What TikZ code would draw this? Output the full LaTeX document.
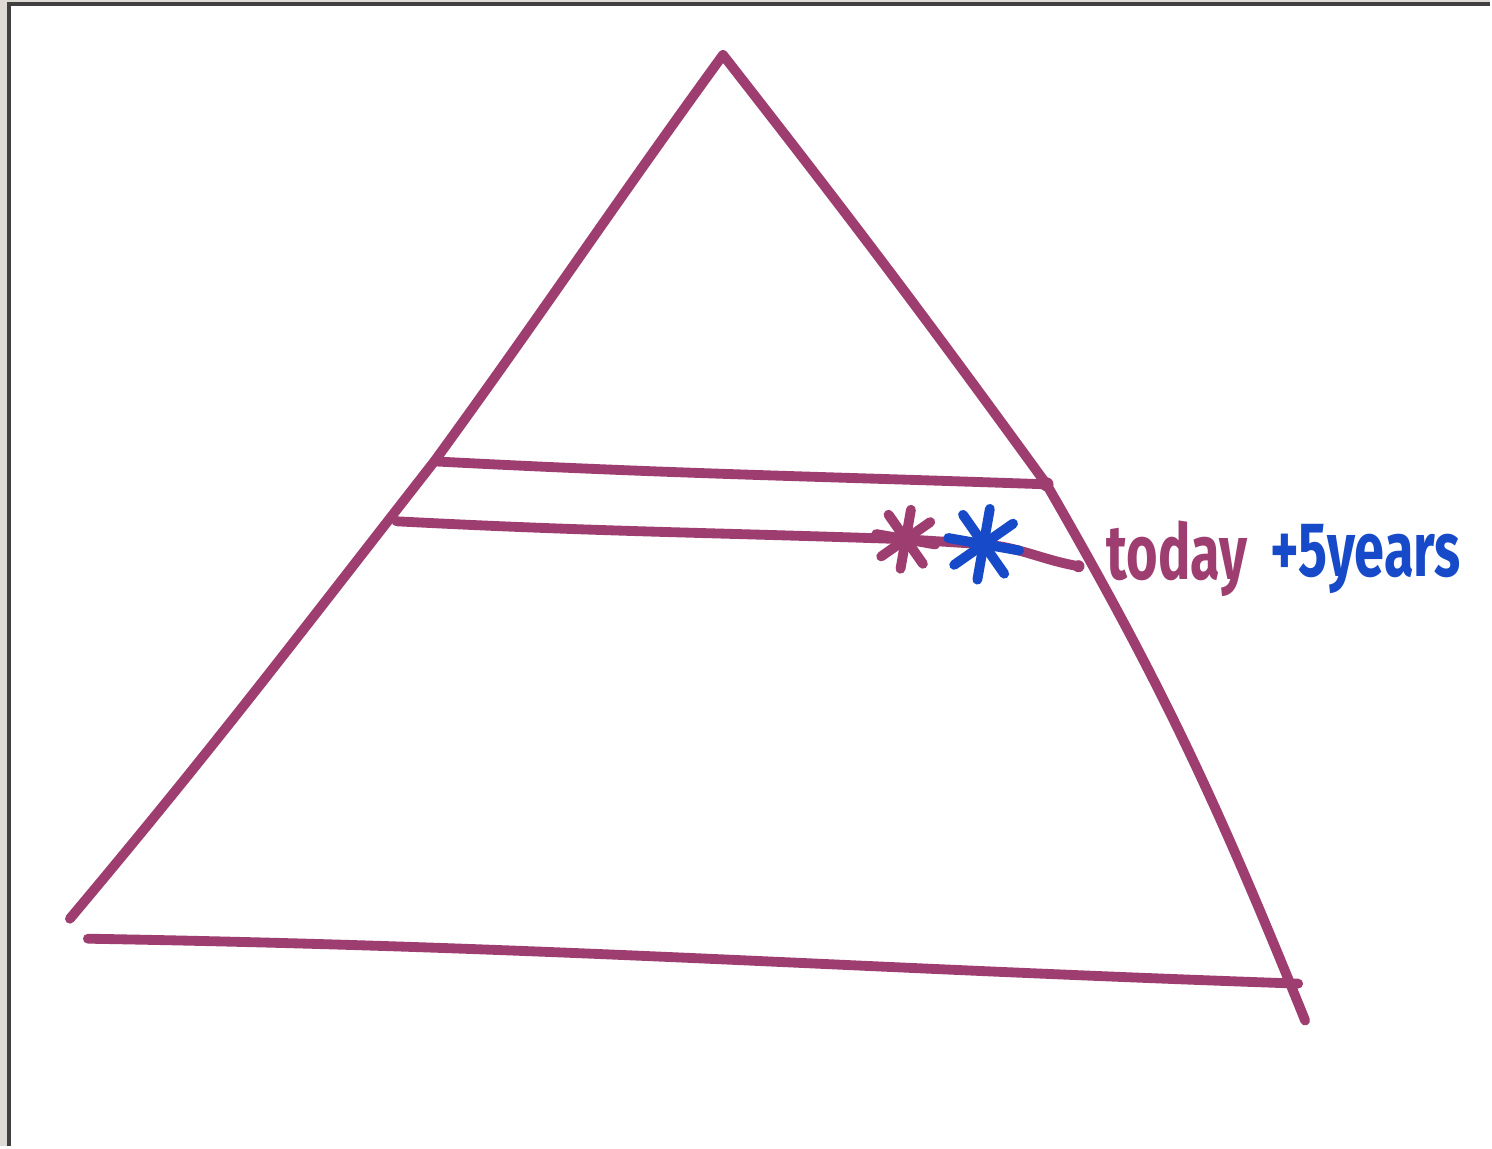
\documentclass[tikz,border=0pt]{standalone}
\usepackage{fontspec}
\setsansfont{Fira Sans}
\usetikzlibrary{calc}
\definecolor{inkmaroon}{RGB}{158,62,112}
\definecolor{inkblue}{RGB}{22,74,200}
\definecolor{scangrey}{RGB}{222,219,214}
\tikzset{
    pen/.style={
        draw=inkmaroon,
        line width=2.8pt,
        line cap=round,
        line join=round
    },
    bluepen/.style={
        pen,
        draw=inkblue
    },
    hand/.style={
        font=\sffamily\bfseries\fontsize{22}{22}\selectfont,
        inner sep=0pt,
        xscale=0.70,
        transform shape
    },
    asteriskmark/.pic={
        \foreach \a in {0,45,90,135}
            \draw (\a+10:#1) -- (\a+190:#1);
    },
    asteriskmark/.default=0.3
}
\begin{document}
\begin{tikzpicture}[x=0.01cm,y=-0.01cm]

% scanned page
\fill[scangrey] (0,0) rectangle (1492,1148);
\fill[white] (9,4) rectangle (1492,1148);
\draw[black!75, line width=1.2pt] (9,1148) -- (9,4) -- (1492,4);
\useasboundingbox (0,0) rectangle (1492,1148);

\coordinate (apex) at (724,55);
\coordinate (lfoot) at (70,920);
\coordinate (rfoot) at (1307,1022);
\coordinate (b1) at (88,940);
\coordinate (b2) at (1300,985);
\coordinate (u1) at (435,462);
\coordinate (u2) at (1048,485);
\coordinate (l1) at (397,522);
\coordinate (l2) at (1080,567);
\coordinate (s1) at (907,540);
\coordinate (s2) at (985,545);

% pyramid
\draw[pen] (lfoot) to[out=50,in=-128] (u1) to[out=54,in=-126] (apex);
\draw[pen] (apex) to[out=-52,in=126] (u2) to[out=-60,in=112] (rfoot);
\draw[pen] (b1) to[out=-1,in=178] (b2);

% bands
\draw[pen] (u1) to[out=-3,in=178] (u2);
\fill[inkmaroon] (u2) circle (7);
\draw[pen] (l1) to[out=-3,in=178] (s1) -- (s2) to[out=-5,in=170] (l2);
\fill[inkmaroon] (l2) circle (6);

% marks
\pic[pen] at (s1) {asteriskmark=30};
\pic[bluepen] at (s2) {asteriskmark=36};

\node[hand, text=inkmaroon, anchor=west] (today) at (1108,560) {today};
\node[hand, text=inkblue, anchor=west] (plusfive) at (1272,560) {+5years};

\end{tikzpicture}
\end{document}
